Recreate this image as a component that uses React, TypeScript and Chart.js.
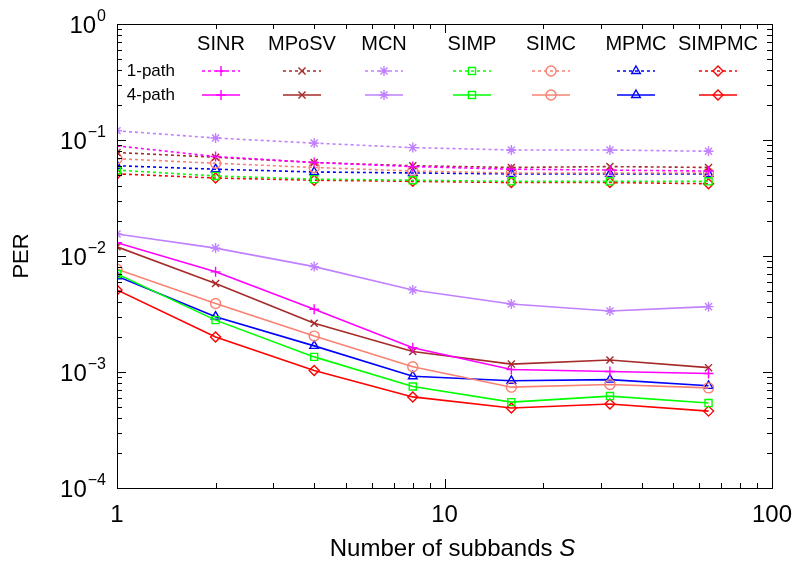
import React, { useEffect, useRef } from 'react';
import { Chart, registerables } from 'chart.js';
import { drawPoint } from 'chart.js/helpers';
Chart.register(...registerables);

const subbands = [1, 2, 4, 8, 16, 32, 64];
const methods = ['SINR', 'MPoSV', 'MCN', 'SIMP', 'SIMC', 'MPMC', 'SIMPMC'];
const colors = ['#ff00ff', '#a52a2a', '#c080ff', '#00ff00', '#fa8072', '#0000ff', '#ff0000'];
const markers = ['cross', 'crossRot', 'star', 'rect', 'circle', 'triangle', 'rectRot'];
const rowLabels = ['1-path', '4-path'];
const xTickLabels = ['1', '10', '100'];
const yExponents = ['0', '−1', '−2', '−3', '−4'];

// 1-path (dashed)
const sinr1 = [0.089, 0.072, 0.064, 0.059, 0.056, 0.055, 0.054];
const mposv1 = [0.078, 0.071, 0.064, 0.060, 0.058, 0.059, 0.058];
const mcn1 = [0.120, 0.104, 0.094, 0.086, 0.082, 0.082, 0.080];
const simp1 = [0.055, 0.049, 0.046, 0.045, 0.044, 0.044, 0.044];
const simc1 = [0.069, 0.063, 0.058, 0.054, 0.052, 0.052, 0.052];
const mpmc1 = [0.060, 0.056, 0.053, 0.052, 0.051, 0.051, 0.051];
const simpmc1 = [0.051, 0.047, 0.045, 0.044, 0.043, 0.043, 0.042];

// 4-path (solid)
const sinr4 = [0.0130, 0.0073, 0.00347, 0.00162, 0.00105, 0.00101, 0.00097];
const mposv4 = [0.0120, 0.0058, 0.00263, 0.00150, 0.00117, 0.00127, 0.00109];
const mcn4 = [0.0155, 0.0117, 0.0081, 0.0051, 0.00386, 0.00336, 0.00366];
const simp4 = [0.0070, 0.0028, 0.00135, 0.00075, 0.00055, 0.00062, 0.00054];
const simc4 = [0.0077, 0.0039, 0.00204, 0.00111, 0.00074, 0.00078, 0.00073];
const mpmc4 = [0.0067, 0.0030, 0.00168, 0.00092, 0.00084, 0.00086, 0.00076];
const simpmc4 = [0.0051, 0.0020, 0.00103, 0.00061, 0.00049, 0.00053, 0.00046];

const series1 = [sinr1, mposv1, mcn1, simp1, simc1, mpmc1, simpmc1];
const series4 = [sinr4, mposv4, mcn4, simp4, simc4, mpmc4, simpmc4];

const FONT = '"Liberation Sans", Arial, Helvetica, sans-serif';
const DASH = [3, 3];
const LEGEND_X = [221, 302, 384, 472, 551, 636, 718];

function makeDataset(label: string, values: number[], i: number, dashed: boolean) {
  return {
    label,
    data: subbands.map((s, k) => ({ x: s, y: values[k] })),
    borderColor: colors[i],
    backgroundColor: 'rgba(0,0,0,0)',
    pointBorderColor: colors[i],
    pointBackgroundColor: 'rgba(0,0,0,0)',
    pointStyle: markers[i],
    pointRadius: 5,
    pointBorderWidth: 1.4,
    borderWidth: 1.6,
    borderDash: dashed ? DASH : [],
    tension: 0,
    fill: false,
  };
}

const axesPlugin = {
  id: 'gnuplotAxes',
  afterDraw(chart: any) {
    const ctx = chart.ctx as CanvasRenderingContext2D;
    const { left, right, top, bottom } = chart.chartArea;
    const xs = chart.scales.x;
    const ys = chart.scales.y;
    ctx.save();
    ctx.strokeStyle = '#000';
    ctx.lineWidth = 1;
    ctx.setLineDash([]);
    ctx.strokeRect(left + 0.5, top + 0.5, right - left, bottom - top);

    // x ticks
    ctx.beginPath();
    for (const dec of [1, 10]) {
      for (let m = 1; m <= 9; m++) {
        const px = Math.round(xs.getPixelForValue(m * dec)) + 0.5;
        const len = m === 1 ? 9 : 5;
        ctx.moveTo(px, bottom); ctx.lineTo(px, bottom - len);
        ctx.moveTo(px, top); ctx.lineTo(px, top + len);
      }
    }
    // y ticks
    for (const dec of [1e-4, 1e-3, 1e-2, 1e-1]) {
      for (let m = 1; m <= 9; m++) {
        const py = Math.round(ys.getPixelForValue(m * dec)) + 0.5;
        const len = m === 1 ? 9 : 5;
        ctx.moveTo(left, py); ctx.lineTo(left + len, py);
        ctx.moveTo(right, py); ctx.lineTo(right - len, py);
      }
    }
    ctx.stroke();

    ctx.fillStyle = '#000';
    // x tick labels
    ctx.font = `24px ${FONT}`;
    ctx.textAlign = 'center';
    ctx.textBaseline = 'middle';
    [1, 10, 100].forEach((v, k) => {
      ctx.fillText(xTickLabels[k], xs.getPixelForValue(v), bottom + 27);
    });
    // y tick labels
    [1, 1e-1, 1e-2, 1e-3, 1e-4].forEach((v, k) => {
      const py = ys.getPixelForValue(v);
      ctx.font = `16px ${FONT}`;
      const ew = ctx.measureText(yExponents[k]).width;
      const endX = left - 11;
      ctx.textAlign = 'left';
      ctx.textBaseline = 'alphabetic';
      ctx.fillText(yExponents[k], endX - ew, py - 3);
      ctx.font = `24px ${FONT}`;
      ctx.textAlign = 'right';
      ctx.fillText('10', endX - ew - 1, py + 9);
    });
    // x title
    ctx.font = `24px ${FONT}`;
    const t1 = 'Number of subbands ';
    const w1 = ctx.measureText(t1).width;
    ctx.font = `italic 24px ${FONT}`;
    const w2 = ctx.measureText('S').width;
    const cx = (left + right) / 2 + 8;
    const startX = cx - (w1 + w2) / 2;
    ctx.textAlign = 'left';
    ctx.textBaseline = 'middle';
    ctx.font = `24px ${FONT}`;
    ctx.fillText(t1, startX, 549);
    ctx.font = `italic 24px ${FONT}`;
    ctx.fillText('S', startX + w1, 549);
    // y title
    ctx.save();
    ctx.translate(22, (top + bottom) / 2);
    ctx.rotate(-Math.PI / 2);
    ctx.font = `22px ${FONT}`;
    ctx.textAlign = 'center';
    ctx.textBaseline = 'middle';
    ctx.fillText('PER', 0, 0);
    ctx.restore();

    // legend
    ctx.font = `20px ${FONT}`;
    ctx.textAlign = 'center';
    ctx.textBaseline = 'middle';
    methods.forEach((m, i) => ctx.fillText(m, LEGEND_X[i], 44));
    ctx.font = `17px ${FONT}`;
    ctx.textAlign = 'right';
    ctx.fillText(rowLabels[0], 175, 71);
    ctx.fillText(rowLabels[1], 175, 95);
    methods.forEach((m, i) => {
      const x0 = LEGEND_X[i];
      [71, 95].forEach((yy, r) => {
        ctx.strokeStyle = colors[i];
        ctx.lineWidth = 1.6;
        ctx.setLineDash(r === 0 ? DASH : []);
        ctx.beginPath();
        ctx.moveTo(x0 - 19, yy);
        ctx.lineTo(x0 + 19, yy);
        ctx.stroke();
        ctx.setLineDash([]);
        ctx.lineWidth = 1.4;
        ctx.fillStyle = 'rgba(0,0,0,0)';
        drawPoint(ctx, { pointStyle: markers[i], radius: 5, rotation: 0, borderWidth: 1.4 } as any, x0, yy);
      });
    });
    ctx.restore();
  },
};

export default function App() {
  const ref = useRef<HTMLCanvasElement | null>(null);
  useEffect(() => {
    if (!ref.current) return;
    const datasets: any[] = [];
    methods.forEach((m, i) => {
      datasets.push(makeDataset(`${m} 1-path`, series1[i], i, true));
      datasets.push(makeDataset(`${m} 4-path`, series4[i], i, false));
    });
    const chart = new Chart(ref.current, {
      type: 'line',
      data: { datasets },
      options: {
        animation: false,
        responsive: false,
        devicePixelRatio: 1,
        parsing: true,
        layout: { padding: { left: 117, top: 24, right: 25, bottom: 74 } },
        plugins: { legend: { display: false }, tooltip: { enabled: false } },
        scales: {
          x: { type: 'logarithmic', min: 1, max: 100, display: false },
          y: { type: 'logarithmic', min: 1e-4, max: 1, display: false },
        },
      },
      plugins: [axesPlugin],
    } as any);
    return () => chart.destroy();
  }, []);
  return (
    <div style={{ position: 'fixed', left: 0, top: 0, width: 797, height: 562, background: '#fff' }}>
      <canvas ref={ref} width={797} height={562} style={{ display: 'block' }} />
    </div>
  );
}
